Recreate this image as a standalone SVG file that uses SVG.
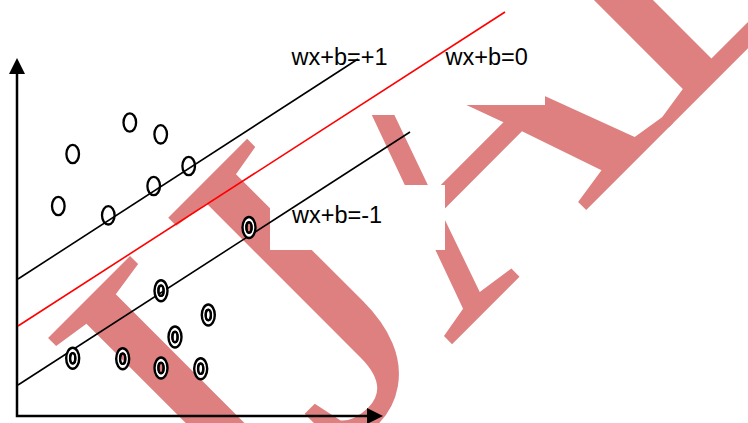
<svg xmlns="http://www.w3.org/2000/svg" xmlns:xlink="http://www.w3.org/1999/xlink" width="748" height="423" viewBox="0 0 748 423">
  <style>
    .axis { fill: none; stroke: #000; stroke-width: 2.5; }
    .margin { fill: none; stroke: #000; stroke-width: 1.6; }
    .hyper { fill: none; stroke: #f00; stroke-width: 1.6; }
    .pos { fill: none; stroke: #000; stroke-width: 2.3; }
    .neg-out { fill: #fff; stroke: #000; stroke-width: 2.4; }
    .neg-in { fill: none; stroke: #000; stroke-width: 2; }
    .lbl { font-family: "Liberation Sans", Arial, sans-serif; font-size: 23.5px; fill: #000; }
    .wm { font-family: "Liberation Serif", "Times New Roman", serif; font-size: 443px; fill: #de8080; }
  </style>
  <defs>
    <marker id="arrow" viewBox="0 0 16 16" refX="0" refY="8" markerWidth="16" markerHeight="16"
            markerUnits="userSpaceOnUse" orient="auto-start-reverse">
      <path d="M0,0 L16,8 L0,16 Z" fill="#000"/>
    </marker>
    <!-- hollow sample (class +1) -->
    <ellipse id="dot-pos" cx="0" cy="0" rx="6.3" ry="9.2"/>
    <!-- ringed sample (class -1): white ring, open centre -->
    <g id="dot-neg">
      <path class="neg-out" fill-rule="evenodd"
            d="M-6.5,0 a6.5,10.5 0 1,0 13,0 a6.5,10.5 0 1,0 -13,0 Z M-2.6,0 a2.6,5.2 0 1,0 5.2,0 a2.6,5.2 0 1,0 -5.2,0 Z"/>
      <ellipse class="neg-in" cx="0" cy="0" rx="2.6" ry="5.2"/>
    </g>
    <!-- areas kept clear of the background lettering -->
    <mask id="wm-cut" maskUnits="userSpaceOnUse" x="0" y="0" width="748" height="423">
      <rect x="0" y="0" width="748" height="423" fill="#fff"/>
      <rect x="270" y="185" width="175" height="65" fill="#000"/>
      <rect x="260" y="0" width="180" height="115" fill="#000"/>
      <rect x="440" y="0" width="105" height="105" fill="#000"/>
    </mask>
  </defs>

  <!-- background lettering -->
  <g id="watermark" mask="url(#wm-cut)">
    <text class="wm" transform="rotate(-45)" x="-221 -86.5 72 370" y="563">IJAL</text>
  </g>

  <!-- axes and separating lines -->
  <g id="connectors">
    <path id="axes" class="axis" d="M17,74 V416 H367" marker-start="url(#arrow)" marker-end="url(#arrow)"/>
    <line id="margin-plus" class="margin" x1="18" y1="279" x2="358" y2="59"/>
    <line id="hyperplane" class="hyper" x1="18" y1="326" x2="505" y2="12"/>
    <line id="margin-minus" class="margin" x1="18" y1="385" x2="410" y2="132"/>
  </g>

  <!-- class +1 samples -->
  <g id="p1"><use xlink:href="#dot-pos" class="pos" x="129.8" y="122.5"/></g>
  <g id="p2"><use xlink:href="#dot-pos" class="pos" x="160.7" y="134.3"/></g>
  <g id="p3"><use xlink:href="#dot-pos" class="pos" x="72.7" y="154"/></g>
  <g id="p4"><use xlink:href="#dot-pos" class="pos" x="188.7" y="166"/></g>
  <g id="p5"><use xlink:href="#dot-pos" class="pos" x="153.7" y="186"/></g>
  <g id="p6"><use xlink:href="#dot-pos" class="pos" x="58.3" y="206"/></g>
  <g id="p7"><use xlink:href="#dot-pos" class="pos" x="108.3" y="215.3"/></g>

  <!-- class -1 samples -->
  <g id="n1"><use xlink:href="#dot-neg" x="249" y="227.5"/></g>
  <g id="n2"><use xlink:href="#dot-neg" x="161" y="290.7"/></g>
  <g id="n3"><use xlink:href="#dot-neg" x="208.3" y="315"/></g>
  <g id="n4"><use xlink:href="#dot-neg" x="175" y="337"/></g>
  <g id="n5"><use xlink:href="#dot-neg" x="72.7" y="358.3"/></g>
  <g id="n6"><use xlink:href="#dot-neg" x="122.7" y="358.7"/></g>
  <g id="n7"><use xlink:href="#dot-neg" x="161" y="368"/></g>
  <g id="n8"><use xlink:href="#dot-neg" x="200.7" y="368.7"/></g>

  <!-- line labels -->
  <g id="label-plus"><text class="lbl" x="291.5" y="65">wx+b=+1</text></g>
  <g id="label-zero"><text class="lbl" x="445.5" y="65">wx+b=0</text></g>
  <g id="label-minus"><text class="lbl" x="292" y="222.7">wx+b=-1</text></g>
</svg>
